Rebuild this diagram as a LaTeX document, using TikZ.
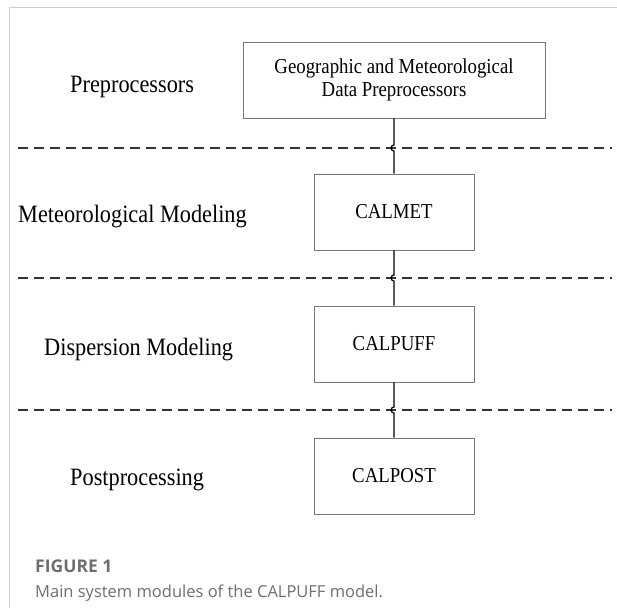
\documentclass[tikz,border=0pt]{standalone}
\usepackage{fontspec}
\usepackage{graphicx}
\setmainfont{Liberation Serif}
\newfontfamily\capfont{Open Sans}
\usetikzlibrary{calc}
\definecolor{boxgray}{HTML}{777777}
\definecolor{dashgray}{HTML}{333333}
\definecolor{framegray}{HTML}{D0D0D0}
\definecolor{capgray}{HTML}{6E6E6E}
\tikzset{
  modbox/.style={draw=boxgray, line width=0.9pt, inner sep=0pt, align=center, font=\fontsize{18.8}{25}\selectfont},
  layerlabel/.style={anchor=west, inner sep=0pt, font=\fontsize{22.3}{26}\selectfont},
  divider/.style={draw=dashgray, line width=1.4pt, dash pattern=on 10pt off 6pt},
  conn/.style={draw=black, line width=1.2pt},
  frame/.style={draw=framegray, line width=0.8pt}
}
\begin{document}
\begin{tikzpicture}[x=1pt,y=-1pt]
\useasboundingbox (0,0) rectangle (617,608);
% frame
\draw[frame] (9,608) -- (9,7) -- (617,7);
% boxes
\node[modbox, minimum width=302pt, minimum height=76pt] (pre) at (394,80)
  {\scalebox{1}[1.13]{Geographic and Meteorological}\\[-2pt]\scalebox{1}[1.13]{Data Preprocessors}};
\node[modbox, minimum width=160pt, minimum height=76pt] (calmet) at (394,212) {\scalebox{1}[1.13]{CALMET}};
\node[modbox, minimum width=160pt, minimum height=76pt] (calpuff) at (394,344) {\scalebox{1}[1.13]{CALPUFF}};
\node[modbox, minimum width=160pt, minimum height=76pt] (calpost) at (394,476) {\scalebox{1}[1.13]{CALPOST}};
% layer labels
\node[layerlabel] (l1) at (70,87) {\scalebox{1}[1.12]{Preprocessors}};
\node[layerlabel] (l2) at (18,217) {\scalebox{1}[1.12]{Meteorological Modeling}};
\node[layerlabel] (l3) at (44,350) {\scalebox{1}[1.12]{Dispersion Modeling}};
\node[layerlabel] (l4) at (70,480) {\scalebox{1}[1.12]{Postprocessing}};
% dividers
\coordinate (d1a) at (18,148); \coordinate (d1b) at (612,148);
\coordinate (d2a) at (18,278); \coordinate (d2b) at (612,278);
\coordinate (d3a) at (18,410); \coordinate (d3b) at (612,410);
\draw[divider] (d1a) -- (d1b);
\draw[divider] (d2a) -- (d2b);
\draw[divider] (d3a) -- (d3b);
% hop points
\coordinate (h1) at (394,148);
\coordinate (h2) at (394,278);
\coordinate (h3) at (394,410);
% connectors
\draw[conn] (calmet.north) -- ($(h1)+(0,3)$) arc[start angle=270, end angle=90, radius=3pt] -- (pre.south);
\draw[conn] (calpuff.north) -- ($(h2)+(0,3)$) arc[start angle=270, end angle=90, radius=3pt] -- (calmet.south);
\draw[conn] (calpost.north) -- ($(h3)+(0,3)$) arc[start angle=270, end angle=90, radius=3pt] -- (calpuff.south);
% caption
\node[anchor=base west, inner sep=0pt, text=capgray, font=\capfont\bfseries\fontsize{17.5}{20}\selectfont] (figlab) at (35,572) {FIGURE 1};
\node[anchor=base west, inner sep=0pt, text=capgray, font=\capfont\fontsize{16.5}{20}\selectfont] (figcap) at (35,597) {Main system modules of the CALPUFF model.};
\end{tikzpicture}
\end{document}
